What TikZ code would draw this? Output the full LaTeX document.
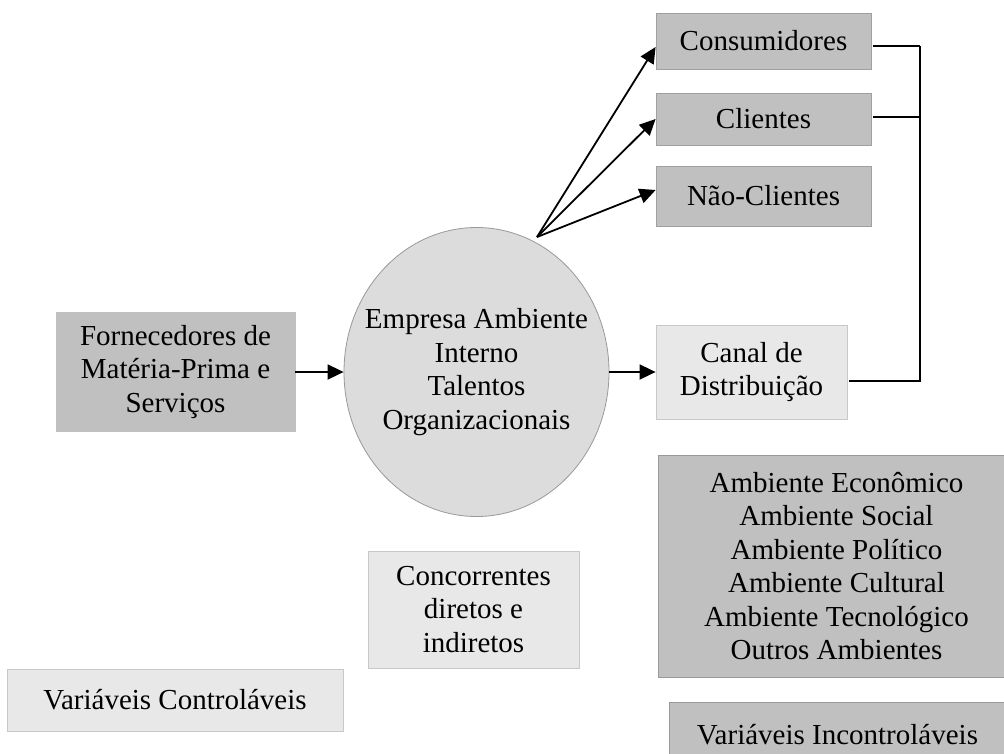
\documentclass[tikz,border=0pt]{standalone}
\usepackage{fontspec}
\setmainfont{Liberation Serif}
\usetikzlibrary{shapes.geometric,arrows.meta,calc}
\definecolor{darkfill}{HTML}{C0C0C0}
\definecolor{darkedge}{HTML}{A0A0A0}
\definecolor{lightfill}{HTML}{E8E8E8}
\definecolor{lightedge}{HTML}{C8C8C8}
\definecolor{ellfill}{HTML}{DCDCDC}
\definecolor{elledge}{HTML}{999999}
\begin{document}
\begin{tikzpicture}[x=1pt,y=-1pt,
  every node/.style={font=\fontsize{29}{33.5}\selectfont, inner sep=0pt, align=center},
  darkbox/.style={rectangle, fill=darkfill, draw=darkedge, line width=0.8pt},
  lightbox/.style={rectangle, fill=lightfill, draw=lightedge, line width=0.8pt},
  arr/.style={line width=1.8pt, -{Triangle[length=16pt,width=15pt]}},
  conn/.style={line width=1.8pt}]
\useasboundingbox (0,0) rectangle (1004,753);
\fill[white] (0,0) rectangle (1004,753);

% boxes
\node[darkbox, minimum width=215, minimum height=56] (cons) at (763.5,41) {Consumidores};
\node[darkbox, minimum width=215, minimum height=52] (cli) at (763.5,119) {Clientes};
\node[darkbox, minimum width=215, minimum height=60] (nao) at (763.5,196) {Não-Clientes};
\node[darkbox, draw=darkfill, minimum width=239, minimum height=119] (forn) at (175.5,372) {Fornecedores de\\Matéria-Prima e\\Serviços};
\node[ellipse, fill=ellfill, draw=elledge, line width=0.8pt, minimum width=265, minimum height=289] (emp) at (476.5,372) {};
\node (emptext) at (emp.center) {Empresa Ambiente\\Interno\\Talentos\\Organizacionais};
\node[lightbox, minimum width=191, minimum height=94] (canal) at (751.5,372) {Canal de\\Distribuição};
\node[lightbox, minimum width=211, minimum height=117] (conc) at (473.5,609.5) {Concorrentes\\diretos e\\indiretos};
\node[darkbox, draw=gray!80, minimum width=357, minimum height=222] (amb) at (836.5,566) {Ambiente Econômico\\Ambiente Social\\Ambiente Político\\Ambiente Cultural\\Ambiente Tecnológico\\Outros Ambientes};
\node[darkbox, draw=gray!80, minimum width=337, minimum height=66] (vinc) at (837.5,735) {Variáveis Incontroláveis};
\node[lightbox, minimum width=336, minimum height=62] (vcon) at (175,700) {Variáveis Controláveis};

% arrows
\draw[arr] (forn.east) -- (emp.west);
\draw[arr] (emp.east) -- (canal.west);
\coordinate (fan) at (537,237);
\draw[arr] (fan) -- ([yshift=-6pt]cons.west);
\draw[arr] (fan) -- (cli.west);
\draw[arr] (fan) -- ([yshift=6pt]nao.west);

% right connector
\coordinate (consR) at ([xshift=2pt,yshift=-5pt]cons.east);
\coordinate (cliR) at ([xshift=2pt,yshift=2pt]cli.east);
\coordinate (canR) at ([xshift=2pt,yshift=-9pt]canal.east);
\coordinate (busTop) at (920,46);
\draw[conn] (consR) -- (busTop);
\draw[conn] (cliR) -- (busTop |- cliR);
\draw[conn] (busTop) -- (busTop |- canR) -- (canR);
\end{tikzpicture}
\end{document}
